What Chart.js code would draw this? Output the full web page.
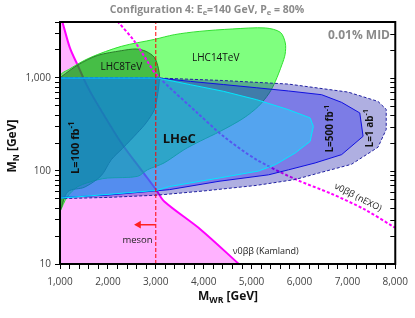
<!DOCTYPE html>
<html>
<head>
<meta charset="utf-8">
<script src="https://cdn.jsdelivr.net/npm/chart.js@4.4.0/dist/chart.umd.min.js"></script>
<style>
  html, body { margin: 0; padding: 0; background: #fff; }
</style>
</head>
<body>
<canvas id="chart" width="415" height="318"></canvas>
<script>
const FONT = "'Open Sans', 'DejaVu Sans', sans-serif";

// all points are [M_WR, M_N] in GeV
const kamland = [[1000,4500],[1035,4236],[1207,2105],[1380,1334],[1554,847],[1726,585],[2280,200],[2695,103],[3006,63],[3178,47],[3940,23.4],[4734,10]];
const nexo = [[2203,4064],[2556,2477],[2826,1507],[3012,1084],[3863,424],[4423,234],[5108,132],[5938,80.6],[6664,57],[7369,38.4],[7992,24.6]];
const lhc14 = [[1000,36.5],[1000,1040],[1200,1250],[1622,1650],[2280,2188],[2971,2600],[3386,2922],[3905,3170],[4595,3365],[5288,3450],[5600,3100],[5704,2380],[5700,1800],[5633,1389],[5496,919],[5370,690],[5150,500],[4832,370],[4346,267],[3932,210],[3587,169],[3172,122],[2826,103],[2618,87.5],[1996,84],[1788,80.5],[1373,68],[1145,52]];
const lhc8 = [[1000,36.5],[1166,60],[1512,67],[1860,89],[2070,132],[2310,176],[2618,258],[2800,330],[2971,456],[3020,584],[3060,800],[3077,1040],[3054,1274],[2971,1665],[2799,1930],[2591,2050],[2280,1966],[1788,1750],[1380,1389],[1035,1040],[1000,1000]];
const lumi1ab = [[1000,1000],[3033,1000],[4400,940],[5772,860],[7017,705],[7639,560],[7811,460],[7811,280],[7639,180],[7085,118],[6400,95],[5910,81],[5100,70],[4000,61],[3033,55],[2000,52],[1000,50.4]];
const lumi500 = [[1000,1000],[3033,1000],[3724,919],[4417,850],[5108,785],[5772,725],[6463,661],[6880,547],[7259,421],[7328,236],[6880,150],[6326,122],[5772,103],[5357,91],[4320,77.5],[3282,63],[2000,55],[1000,52]];
const lumi100 = [[1000,1000],[3033,1000],[3724,847],[4417,718],[5108,584],[5772,456],[6222,372],[6290,302],[6222,208],[5910,156],[5496,117],[5149,100],[4320,84],[3282,68],[3033,62],[2000,56],[1000,51]];
const mesonBound = [[3000,10],[3000,4000]];
const mesonArrow = [[3000,26.5],[2640,26.5]];

const xTicks = [];
for (let v = 1000; v <= 8000; v += 200) xTicks.push(v);
const yTicks = [10,20,30,40,50,60,70,80,90,100,200,300,400,500,600,700,800,900,1000,2000,3000,4000];
const yLabels = {10: '10', 100: '100', 1000: '1,000'};

const pts = a => a.map(([x, y]) => ({x, y}));
const closed = a => pts(a.concat([a[0]]));

function region(a, fillColor, lineColor, order, opts) {
  return Object.assign({
    data: closed(a), fill: 'shape', backgroundColor: fillColor, borderColor: lineColor,
    borderWidth: 1, pointRadius: 0, tension: 0, order
  }, opts || {});
}

const datasets = [
  { data: pts(kamland), fill: 'start', backgroundColor: 'rgba(255,0,255,0.3)', borderColor: '#ff00ff',
    borderWidth: 2, pointRadius: 0, tension: 0.3, order: 20 },
  region(lhc14, 'rgba(0,255,0,0.5)', '#30e030', 19, { tension: 0.3 }),
  region(lhc8, 'rgba(0,110,0,0.45)', '#2a7a2a', 18, { tension: 0.3 }),
  { data: pts(nexo), borderColor: '#ff00ff', borderWidth: 2, borderDash: [3, 2], pointRadius: 0,
    tension: 0.3, fill: false, order: 17 },
  region(lumi1ab, 'rgba(13,13,164,0.33)', '#2020a0', 16, { borderDash: [3, 2] }),
  region(lumi500, 'rgba(8,8,242,0.3)', '#1010e0', 15),
  region(lumi100, 'rgba(14,236,255,0.36)', '#00e8ff', 14),
  { data: pts(mesonBound), borderColor: '#ff0000', borderWidth: 1, borderDash: [4, 2], pointRadius: 0, fill: false, order: 2 },
  { data: pts(mesonArrow), borderColor: '#ff2020', borderWidth: 1.5, pointRadius: [0, 4.5], pointStyle: 'triangle',
    rotation: 270, pointBackgroundColor: '#ff2020', pointBorderWidth: 0, fill: false, order: 1 }
];

function rich(ctx, segs, x, y, size, bold, color, angle, align) {
  ctx.save();
  ctx.translate(x, y);
  ctx.rotate(angle || 0);
  ctx.fillStyle = color;
  ctx.textBaseline = 'middle';
  ctx.textAlign = 'left';
  const fontOf = s => (bold ? 'bold ' : '') + s + 'px ' + FONT;
  let w = 0;
  const parts = segs.map(([t, k]) => {
    const s = k ? size * 0.72 : size;
    ctx.font = fontOf(s);
    const tw = ctx.measureText(t).width;
    w += tw;
    return {t, k, s, tw};
  });
  let cx = align === 'right' ? -w : align === 'left' ? 0 : -w / 2;
  for (const p of parts) {
    ctx.font = fontOf(p.s);
    const dy = p.k === 'sub' ? size * 0.3 : p.k === 'sup' ? -size * 0.35 : 0;
    ctx.fillText(p.t, cx, dy);
    cx += p.tw;
  }
  ctx.restore();
}

const decor = {
  id: 'decor',
  afterDatasetsDraw(chart) {
    const {ctx, chartArea: a, scales: {x, y}} = chart;
    ctx.save();
    ctx.strokeStyle = '#000';
    ctx.lineWidth = 1;
    for (const v of yTicks) {
      const py = Math.round(y.getPixelForValue(v)) + 0.5;
      ctx.beginPath();
      ctx.moveTo(a.right - 5, py);
      ctx.lineTo(a.right, py);
      ctx.stroke();
    }
    ctx.lineWidth = 2;
    ctx.strokeRect(a.left, a.top, a.right - a.left, a.bottom - a.top);
    ctx.restore();

    const at = (vx, vy) => [x.getPixelForValue(vx), y.getPixelForValue(vy)];
    const dark = '#111';
    rich(ctx, [['LHC8TeV']], ...at(2280, 1324), 10, false, dark);
    rich(ctx, [['LHC14TeV']], ...at(4251, 1641), 10, false, dark);
    rich(ctx, [['LHeC']], ...at(3490, 217), 13, true, dark);
    rich(ctx, [['L=100 fb'], ['-1', 'sup']], ...at(1332, 178), 11, true, dark, -Math.PI / 2);
    rich(ctx, [['L=500 fb'], ['-1', 'sup']], ...at(6640, 285), 10, true, dark, -Math.PI / 2);
    rich(ctx, [['L=1 ab'], ['-1', 'sup']], ...at(7467, 288), 10, true, dark, -Math.PI / 2);
    rich(ctx, [['ν0ββ (nEXO)']], ...at(7220, 52), 9, false, '#222', 27 * Math.PI / 180);
    rich(ctx, [['ν0ββ (Kamland)']], ...at(5295, 13.7), 9, false, '#222');
    rich(ctx, [['meson']], ...at(2618, 18.2), 9.5, false, '#222');
  },
  afterDraw(chart) {
    rich(chart.ctx, [['Configuration 4: E'], ['e', 'sub'], ['=140 GeV, P'], ['e', 'sub'], [' = 80%']], 207, 10, 10.5, true, '#8a8a8a');
    rich(chart.ctx, [['0.01% MID']], 390, 36, 12, true, '#8a8a8a', 0, 'right');
    rich(chart.ctx, [['M'], ['N', 'sub'], [' [GeV]']], 13, 146, 12, true, '#111', -Math.PI / 2);
    rich(chart.ctx, [['M'], ['WR', 'sub'], [' [GeV]']], 228, 297, 12, true, '#111');
  }
};

new Chart(document.getElementById('chart'), {
  type: 'line',
  data: { datasets },
  options: {
    responsive: false,
    animation: false,
    events: [],
    layout: { padding: { top: 22, right: 17, left: 0, bottom: 0 } },
    plugins: { legend: { display: false }, tooltip: { enabled: false }, title: { display: false } },
    scales: {
      x: {
        type: 'linear', min: 1000, max: 8000,
        afterBuildTicks: s => { s.ticks = xTicks.map(v => ({value: v})); },
        afterFit: s => { s.height = 54; },
        ticks: { autoSkip: false, maxRotation: 0, padding: 7, color: '#444', font: { family: FONT, size: 10 },
          callback: v => v % 1000 === 0 ? v.toLocaleString('en-US') : '' },
        grid: { drawOnChartArea: false, drawTicks: true, tickLength: 5, color: '#000' },
        border: { color: '#000', width: 2 }
      },
      y: {
        type: 'logarithmic', min: 10, max: 4000,
        afterBuildTicks: s => { s.ticks = yTicks.map(v => ({value: v})); },
        afterFit: s => { s.width = 60; },
        ticks: { autoSkip: false, padding: 4, color: '#444', font: { family: FONT, size: 10 },
          callback: v => yLabels[v] || '' },
        grid: { drawOnChartArea: false, drawTicks: true, tickLength: 5, color: '#000' },
        border: { color: '#000', width: 2 }
      }
    }
  },
  plugins: [decor]
});
</script>
</body>
</html>
